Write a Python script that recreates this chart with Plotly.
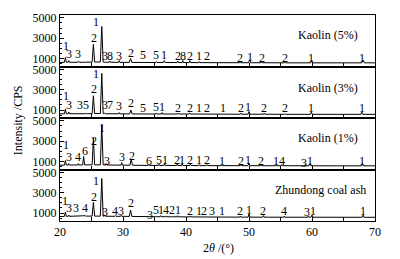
import plotly.graph_objects as go
from plotly.subplots import make_subplots

# ---------------- data (2theta, intensity) ----------------
k5_pts = [(20.0, 620),
          (20.7, 630), (20.85, 1100), (21.0, 640),
          (21.3, 640), (21.4, 800), (21.5, 640),
          (22.8, 630), (22.95, 750), (23.1, 630),
          (24.0, 640),
          (25.1, 650), (25.3, 2400), (25.5, 660),
          (26.4, 660), (26.63, 4150), (26.85, 660),
          (27.0, 640), (27.1, 700), (27.2, 640),
          (27.8, 640), (27.9, 750), (28.0, 640),
          (29.3, 630), (29.4, 800), (29.5, 630),
          (31.0, 620), (31.2, 1000), (31.4, 620),
          (33.1, 610), (33.2, 650), (33.3, 610),
          (35.2, 610), (35.3, 700), (35.4, 610),
          (36.4, 610), (36.55, 800), (36.7, 610),
          (38.6, 610), (38.7, 750), (38.8, 610),
          (39.4, 610), (39.5, 800), (39.6, 610),
          (40.5, 610), (40.6, 800), (40.7, 610),
          (42.0, 600), (42.1, 700), (42.2, 600),
          (43.2, 600), (43.3, 650), (43.4, 600),
          (45.0, 590),
          (48.5, 590), (48.6, 700), (48.7, 590),
          (49.95, 590), (50.1, 900), (50.25, 590),
          (51.9, 590), (52.0, 700), (52.1, 590),
          (55.6, 580), (55.7, 650), (55.8, 580),
          (59.8, 580), (59.95, 850), (60.1, 580),
          (64.0, 580),
          (67.9, 580), (68.1, 850), (68.3, 580),
          (70.0, 580)]

k3_pts = [(20.0, 630),
          (20.7, 630), (20.85, 1100), (21.0, 640),
          (21.3, 640), (21.4, 800), (21.5, 640),
          (23.0, 630), (23.1, 700), (23.2, 630),
          (24.0, 640), (24.1, 700), (24.2, 640),
          (25.1, 650), (25.3, 2400), (25.5, 660),
          (26.4, 660), (26.63, 4600), (26.85, 660),
          (27.0, 640), (27.1, 700), (27.2, 640),
          (27.8, 640), (27.9, 700), (28.0, 640),
          (29.3, 630), (29.4, 750), (29.5, 630),
          (31.05, 620), (31.25, 1000), (31.45, 620),
          (33.1, 610), (33.2, 650), (33.3, 610),
          (35.2, 610), (35.3, 700), (35.4, 610),
          (36.1, 610), (36.2, 750), (36.3, 610),
          (38.7, 610), (38.8, 700), (38.9, 610),
          (40.5, 610), (40.6, 700), (40.7, 610),
          (42.0, 600), (42.1, 650), (42.2, 600),
          (43.3, 600), (43.4, 650), (43.5, 600),
          (45.7, 595), (45.8, 640), (45.9, 595),
          (48.6, 590), (48.7, 700), (48.8, 590),
          (49.85, 590), (50.0, 850), (50.15, 590),
          (52.3, 590), (52.4, 700), (52.5, 590),
          (55.6, 580), (55.7, 650), (55.8, 580),
          (59.75, 580), (59.9, 800), (60.05, 580),
          (64.0, 580),
          (67.75, 580), (67.9, 800), (68.05, 580),
          (70.0, 580)]

k1_pts = [(20.0, 640),
          (20.7, 650), (20.85, 1100), (21.0, 660),
          (21.3, 660), (21.4, 800), (21.5, 660),
          (22.8, 660), (22.9, 800), (23.0, 660),
          (23.6, 670), (23.75, 1500), (23.9, 670),
          (25.1, 680), (25.3, 3300), (25.5, 680),
          (26.4, 680), (26.63, 4600), (26.85, 680),
          (27.3, 660), (27.4, 800), (27.5, 660),
          (29.7, 650), (29.8, 900), (29.9, 650),
          (31.1, 640), (31.3, 1200), (31.5, 640),
          (34.0, 620), (34.1, 700), (34.2, 620),
          (35.6, 620), (35.7, 750), (35.8, 620),
          (36.5, 620), (36.6, 800), (36.7, 620),
          (38.5, 610), (38.6, 750), (38.7, 610),
          (39.3, 610), (39.4, 800), (39.5, 610),
          (40.6, 610), (40.7, 750), (40.8, 610),
          (42.0, 600), (42.1, 700), (42.2, 600),
          (43.2, 600), (43.3, 700), (43.4, 600),
          (45.6, 600), (45.7, 650), (45.8, 600),
          (48.6, 595), (48.7, 750), (48.8, 595),
          (49.85, 595), (50.0, 850), (50.15, 595),
          (51.8, 590), (51.9, 750), (52.0, 590),
          (54.2, 590), (54.3, 700), (54.4, 590),
          (55.1, 590), (55.2, 700), (55.3, 590),
          (58.8, 585), (58.9, 700), (59.0, 585),
          (59.5, 585), (59.65, 800), (59.8, 585),
          (64.0, 580),
          (67.85, 580), (68.0, 800), (68.15, 580),
          (70.0, 580)]

ash_pts = [(20.0, 660),
           (20.7, 670), (20.85, 1100), (21.0, 680),
           (21.3, 680), (21.4, 800), (21.5, 680),
           (22.5, 690), (22.6, 760), (22.7, 690),
           (23.9, 700), (24.0, 740), (24.1, 700),
           (25.1, 700), (25.3, 2050), (25.5, 700),
           (26.4, 700), (26.63, 4400), (26.85, 700),
           (27.0, 690), (27.1, 800), (27.2, 690),
           (28.7, 680), (28.8, 750), (28.9, 680),
           (29.6, 680), (29.7, 780), (29.8, 680),
           (31.0, 670), (31.2, 1300), (31.4, 670),
           (34.2, 650), (34.3, 690), (34.4, 650),
           (35.1, 640), (35.2, 720), (35.3, 640),
           (35.9, 640), (36.0, 750), (36.1, 640),
           (36.7, 640), (36.8, 720), (36.9, 640),
           (37.7, 630), (37.8, 700), (37.9, 630),
           (38.6, 630), (38.7, 740), (38.8, 630),
           (40.6, 620), (40.7, 720), (40.8, 620),
           (42.0, 615), (42.1, 680), (42.2, 615),
           (42.8, 610), (42.9, 660), (43.0, 610),
           (44.0, 610), (44.1, 650), (44.2, 610),
           (45.6, 605), (45.7, 650), (45.8, 605),
           (48.5, 600), (48.6, 700), (48.7, 600),
           (49.85, 600), (50.0, 900), (50.15, 600),
           (52.2, 595), (52.3, 750), (52.4, 595),
           (55.5, 590), (55.6, 700), (55.7, 590),
           (59.3, 590), (59.4, 700), (59.5, 590),
           (59.85, 590), (60.0, 800), (60.15, 590),
           (64.0, 585),
           (67.95, 585), (68.1, 800), (68.25, 585),
           (70.0, 585)]

# peak identification labels: (text, 2theta, intensity)
k5_lbl = [("1", 20.9, 2230), ("3", 21.4, 1490), ("3", 22.9, 1490), ("2", 25.4, 3060),
          ("1", 25.7, 4600), ("3", 27.1, 1220), ("8", 27.9, 1220), ("3", 29.4, 1220),
          ("2", 31.2, 1580), ("5", 33.2, 1310), ("5", 35.3, 1310), ("1", 36.5, 1310),
          ("2", 38.7, 1250), ("8", 39.5, 1250), ("2", 40.6, 1250), ("1", 42.1, 1250),
          ("2", 43.3, 1250), ("2", 48.6, 1100), ("1", 50.1, 1150), ("2", 52.0, 1050),
          ("2", 55.7, 1100), ("1", 59.8, 1050), ("1", 68.0, 1050)]
k3_lbl = [("1", 20.9, 2420), ("3", 21.4, 1490), ("3", 23.1, 1490), ("5", 24.1, 1490),
          ("2", 25.4, 3060), ("1", 25.7, 4500), ("3", 27.1, 1490), ("7", 27.9, 1490),
          ("3", 29.4, 1400), ("2", 31.3, 1680), ("5", 33.2, 1250), ("5", 35.3, 1300),
          ("1", 36.2, 1300), ("2", 38.8, 1250), ("2", 40.6, 1250), ("1", 42.1, 1250),
          ("2", 43.4, 1250), ("1", 45.8, 1200), ("2", 48.7, 1250), ("1", 49.9, 1300),
          ("2", 52.4, 1200), ("2", 55.7, 1250), ("1", 59.9, 1200), ("1", 67.9, 1200)]
k1_lbl = [("1", 20.9, 2600), ("3", 21.4, 1490), ("4", 22.9, 1490), ("6", 23.9, 2050),
          ("2", 25.4, 3060), ("1", 26.6, 4250), ("3", 27.4, 1030), ("3", 29.8, 1490),
          ("2", 31.4, 1580), ("6", 34.1, 1030), ("5", 35.7, 1120), ("1", 36.6, 1120),
          ("2", 38.6, 1120), ("1", 39.4, 1120), ("2", 40.7, 1120), ("1", 42.1, 1120),
          ("2", 43.3, 1120), ("1", 45.7, 1100), ("2", 48.7, 1100), ("1", 49.9, 1200),
          ("2", 51.9, 1100), ("1", 54.3, 1100), ("4", 55.2, 1100), ("3", 58.75, 900),
          ("1", 59.7, 1050), ("1", 68.0, 1050)]
ash_lbl = [("1", 20.85, 2230), ("3", 21.35, 1490), ("3", 22.6, 1490), ("4", 24.0, 1490),
           ("2", 25.4, 2600), ("1", 25.7, 4150), ("3", 27.1, 1120), ("4", 28.8, 1200),
           ("3", 29.7, 1200), ("2", 31.2, 1950), ("3", 34.3, 850), ("5", 35.2, 1300),
           ("1", 36.0, 1300), ("4", 36.8, 1300), ("2", 37.8, 1300), ("1", 38.7, 1300),
           ("2", 40.7, 1250), ("1", 42.1, 1250), ("2", 42.9, 1250), ("3", 44.1, 1250),
           ("1", 45.7, 1200), ("2", 48.6, 1200), ("1", 50.0, 1350), ("2", 52.3, 1200),
           ("4", 55.6, 1200), ("3", 59.25, 1100), ("1", 60.1, 1200), ("1", 68.1, 1200)]

sample_names = ["Kaolin (5%)", "Kaolin (3%)", "Kaolin (1%)", "Zhundong coal ash"]
name_x = [62.5, 62.5, 62.5, 61.3]
name_y = [3300, 3200, 3300, 3300]

x_ticks = [20, 30, 40, 50, 60, 70]
y_ticks = [1000, 3000, 5000]

# ---------------- figure ----------------
FONT = "Liberation Serif"
fig = make_subplots(rows=4, cols=1, shared_xaxes=True, vertical_spacing=0)

panels = [k5_pts, k3_pts, k1_pts, ash_pts]
labels = [k5_lbl, k3_lbl, k1_lbl, ash_lbl]
for i in range(4):
    xs = [p[0] for p in panels[i]]
    ys = [p[1] for p in panels[i]]
    fig.add_trace(go.Scatter(x=xs, y=ys, mode="lines",
                             line=dict(color="black", width=1), showlegend=False),
                  row=i + 1, col=1)
    for t, lx, ly in labels[i]:
        fig.add_annotation(text=t, x=lx, y=ly, showarrow=False,
                           font=dict(family=FONT, size=12, color="black"),
                           row=i + 1, col=1)
    fig.add_annotation(text=sample_names[i], x=name_x[i], y=name_y[i], showarrow=False,
                       font=dict(family=FONT, size=12, color="black"),
                       row=i + 1, col=1)

fig.update_xaxes(range=[20, 70], tickvals=x_ticks, showline=True, mirror=True,
                 linecolor="black", linewidth=1, ticks="inside", ticklen=4,
                 tickcolor="black", tickwidth=1, automargin=False,
                 minor=dict(dtick=5, tick0=20, ticks="inside", ticklen=4, tickcolor="black"),
                 showgrid=False, zeroline=False,
                 tickfont=dict(family=FONT, size=12, color="black"))
fig.update_yaxes(range=[220, 5280], tickvals=y_ticks, showline=True, mirror=True,
                 linecolor="black", linewidth=1, ticks="inside", ticklen=4,
                 tickcolor="black", tickwidth=1, automargin=False,
                 minor=dict(dtick=500, tick0=0, ticks="inside", ticklen=2, tickcolor="black"),
                 showgrid=False, zeroline=False,
                 tickfont=dict(family=FONT, size=12, color="black"))

fig.add_annotation(text="Intensity /CPS", xref="paper", yref="paper", x=-0.133, y=0.49,
                   xanchor="center", yanchor="middle",
                   textangle=-90, showarrow=False,
                   font=dict(family=FONT, size=12, color="black"))
fig.add_annotation(text="2<i>θ</i> /(°)", xref="paper", yref="paper", x=0.502, y=-0.131,
                   xanchor="center", yanchor="middle",
                   showarrow=False, font=dict(family=FONT, size=12, color="black"))

# page body has an 8 px default margin: size the figure so the plot lands where the reference has it
fig.update_layout(width=392, height=251, margin=dict(l=52, r=25, t=7, b=38),
                  plot_bgcolor="white", paper_bgcolor="white", showlegend=False,
                  font=dict(family=FONT, size=12, color="black"))

fig.write_html("out.html")
